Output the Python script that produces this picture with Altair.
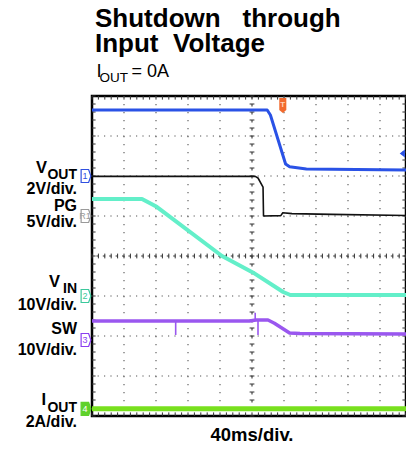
import altair as alt
import pandas as pd
import numpy as np

FONT = "Liberation Sans, Arial, Helvetica, sans-serif"

# ---------------- data ----------------
# time in ms (40 ms/div, 10 div); values in each channel's own units
vout_t = [0, 219, 223, 242, 247, 268, 400]
vout_v = [3.3, 3.3, 3.05, 0.6, 0.46, 0.35, 0.3]
pg_t = [0, 204, 207.5, 213.8, 214.4, 236, 238.5, 250, 300, 400]
pg_v = [4.95, 4.95, 4.75, 3.6, 0.0, 0.05, 0.4, 0.3, 0.2, 0.05]
vin_t = [0, 62.5, 80.9, 162.5, 201, 239, 248, 400]
vin_v = [24.25, 24.25, 22.3, 10.0, 5.9, 1.0, 0.25, 0.25]
sw_t = [0, 197, 205, 220, 228, 247, 260, 400]
sw_v = [4.75, 4.75, 5.0, 5.0, 4.2, 1.75, 1.6, 1.5]
sw_spike_t = [104.6, 204, 207.5]
sw_spike_lo = [1.25, 4.75, 1.25]
sw_spike_hi = [5.0, 6.8, 5.0]
iout_t = [0, 400]
iout_v = [0.0, 0.0]
trigger_t = 238.5      # ms
trigger_level = 1.12   # V on VOUT

channels = ["VOUT", "PG", "VIN", "SW", "IOUT"]
ground_div = [6.0, 5.0, 3.0, 1.9, 0.18]
units_per_div = [2, 5, 10, 10, 2]
marker_text = ["1", "R1", "2", "3", "4"]
marker_stroke = ["#3050e0", "#9a9a9a", "#3cc89c", "#8a3ef0", "#5fd12a"]
marker_fill = ["#ffffff", "#ffffff", "#ffffff", "#ffffff", "#5fd12a"]
marker_tcolor = ["#3050e0", "#9a9a9a", "#3cc89c", "#8a3ef0", "#ffffff"]

trace_color = ["#2a52e6", "#111111", "#63efc9", "#9a57ef", "#78e01e"]
trace_width = [3, 1.6, 4, 3.5, 5]

hgrid_div = [1, 2, 3, 5, 6, 7]
vgrid_ms = [40, 80, 120, 160, 240, 280, 320, 360]

# ---------------- layout ----------------
PL, PT = 84, 88          # plot origin at page (92, 96)
W, H = 314, 320          # visible screen area (page is 398 px wide inside margins)
FULL_W = 320             # 10 div x 32 px: time scale range
RIGHT_MS = W * 400 / FULL_W

xs = alt.Scale(domain=[0, 400], range=[0, FULL_W], nice=False, zero=False)
ys = alt.Scale(domain=[0, 8], nice=False, zero=False)


def X(f):
    return alt.X(f, type="quantitative", scale=xs, axis=None)


def Y(f):
    return alt.Y(f, type="quantitative", scale=ys, axis=None)


gi = {c: i for i, c in enumerate(channels)}


def to_div(ch, vals):
    i = gi[ch]
    return [ground_div[i] + v / units_per_div[i] for v in vals]


layers = []

# grid
layers.append(alt.Chart(pd.DataFrame({"y": hgrid_div})).mark_rule(
    color="#555", strokeWidth=1.1, strokeDash=[1.2, 5.2]).encode(y=Y("y")))
layers.append(alt.Chart(pd.DataFrame({"x": vgrid_ms})).mark_rule(
    color="#555", strokeWidth=1.1, strokeDash=[1.2, 6.8]).encode(x=X("x")))
layers.append(alt.Chart(pd.DataFrame({"y": [4]})).mark_rule(
    color="#333", strokeWidth=1.1, strokeDash=[2.4, 4.0]).encode(y=Y("y")))
layers.append(alt.Chart(pd.DataFrame({"x": [200]})).mark_rule(
    color="#333", strokeWidth=1.1, strokeDash=[2.4, 5.6]).encode(x=X("x")))

# minor ticks on centre lines and borders
minor_t = np.arange(0, RIGHT_MS + 0.1, 8)
minor_v = np.round(np.arange(0, 8.001, 0.2), 3)
segs = []
for t in minor_t:
    segs.append((t, t, 3.94, 4.06))
    segs.append((t, t, 8.0, 7.91))
    segs.append((t, t, 0.0, 0.09))
for v in minor_v:
    segs.append((197, 203, v, v))
    segs.append((0, 4.5, v, v))
    segs.append((RIGHT_MS - 4.5, RIGHT_MS, v, v))
seg_df = pd.DataFrame(segs, columns=["x1", "x2", "y1", "y2"])
layers.append(alt.Chart(seg_df).mark_rule(color="#333", strokeWidth=1).encode(
    x=X("x1"), x2="x2", y=Y("y1"), y2="y2"))

# traces
series = {"VOUT": (vout_t, vout_v), "PG": (pg_t, pg_v), "VIN": (vin_t, vin_v),
          "SW": (sw_t, sw_v), "IOUT": (iout_t, iout_v)}
for ch in ["IOUT", "SW", "VIN", "PG", "VOUT"]:
    t, v = series[ch]
    i = gi[ch]
    df = pd.DataFrame({"t": t, "y": to_div(ch, v)})
    layers.append(alt.Chart(df).mark_line(
        color=trace_color[i], strokeWidth=trace_width[i], strokeJoin="round",
        clip=True).encode(x=X("t"), y=Y("y")))

spk = pd.DataFrame({"t": sw_spike_t, "lo": to_div("SW", sw_spike_lo),
                    "hi": to_div("SW", sw_spike_hi)})
layers.append(alt.Chart(spk).mark_rule(color=trace_color[3], strokeWidth=1.6).encode(
    x=X("t"), y=Y("lo"), y2="hi"))

# channel ground markers
box = "M-0.75,-1 L0.4,-1 L0.75,0 L0.4,1 L-0.75,1 Z"
mk = pd.DataFrame({"g": ground_div, "lab": marker_text, "st": marker_stroke,
                   "fi": marker_fill, "tc": marker_tcolor})
layers.append(alt.Chart(mk).mark_point(shape=box, size=169, filled=True, strokeWidth=1.2,
                                       opacity=1).encode(
    x=alt.value(-6), y=Y("g"), fill=alt.Fill("fi:N", scale=None),
    stroke=alt.Stroke("st:N", scale=None)))
layers.append(alt.Chart(mk).mark_text(font=FONT, fontSize=9, baseline="middle",
                                      align="center").encode(
    x=alt.value(-7), y=Y("g"), text="lab:N", color=alt.Color("tc:N", scale=None)))

# trigger markers
trig = pd.DataFrame({"t": [trigger_t]})
layers.append(alt.Chart(trig).mark_point(
    shape="M-0.47,-1 L0.47,-1 L0.47,0.6 L0,1 L-0.47,0.6 Z", size=225, filled=True,
    color="#f26a2e", opacity=1).encode(x=X("t"), y=alt.value(9.5)))
layers.append(alt.Chart(trig).mark_text(
    text="T", font=FONT, fontSize=8, fontWeight="bold", color="#ffd2b8",
    baseline="middle").encode(x=X("t"), y=alt.value(8.5)))
lvl = pd.DataFrame({"y": to_div("VOUT", [trigger_level])})
layers.append(alt.Chart(lvl).mark_point(
    shape="M0.6,-1 L-0.7,0 L0.6,1 Z", size=64, filled=True, color="#2a52e6",
    opacity=1).encode(x=alt.value(W - 3.5), y=Y("y")))

# text (positions given in page pixels)
one = pd.DataFrame({"a": [0]})


def txt(s, x, y, size, weight="bold", align="left"):
    return alt.Chart(one).mark_text(
        text=s, font=FONT, fontSize=size, fontWeight=weight, align=align,
        baseline="alphabetic", color="#000").encode(
        x=alt.value(x - 8 - PL), y=alt.value(y - 8 - PT))


layers += [
    txt("Shutdown", 95, 27, 26),
    txt("through", 242.5, 27, 26),
    txt("Input", 95, 52, 26),
    txt("Voltage", 173, 52, 26),
    txt("I", 96.5, 77, 18.5, "normal"),
    txt("OUT", 99.5, 81.7, 13.5, "normal"),
    txt("= 0A", 131.5, 77, 18, "normal"),
    txt("V", 47, 173, 16.5, align="right"),
    txt("OUT", 77, 179, 14, align="right"),
    txt("2V/div.", 77, 194, 16, align="right"),
    txt("PG", 77, 211, 16, align="right"),
    txt("5V/div.", 77, 227, 16, align="right"),
    txt("V", 60, 287, 16.5, align="right"),
    txt("IN", 77, 293, 14, align="right"),
    txt("10V/div.", 77, 310, 16, align="right"),
    txt("SW", 77, 334, 16, align="right"),
    txt("10V/div.", 77, 355, 16, align="right"),
    txt("I", 46, 405, 16.5, align="right"),
    txt("OUT", 77, 412, 14, align="right"),
    txt("2A/div.", 77, 427, 16, align="right"),
    txt("40ms/div.", 252, 440.5, 18.5, align="center"),
]

chart = alt.layer(*layers).properties(
    width=W, height=H,
    padding={"left": PL, "top": PT, "right": 0, "bottom": 27},
    autosize=alt.AutoSizeParams(type="none"),
    background="#ffffff",
).configure_view(stroke="#000000", strokeWidth=2.5)

chart.save("out.html", embed_options={"renderer": "svg", "actions": False})
